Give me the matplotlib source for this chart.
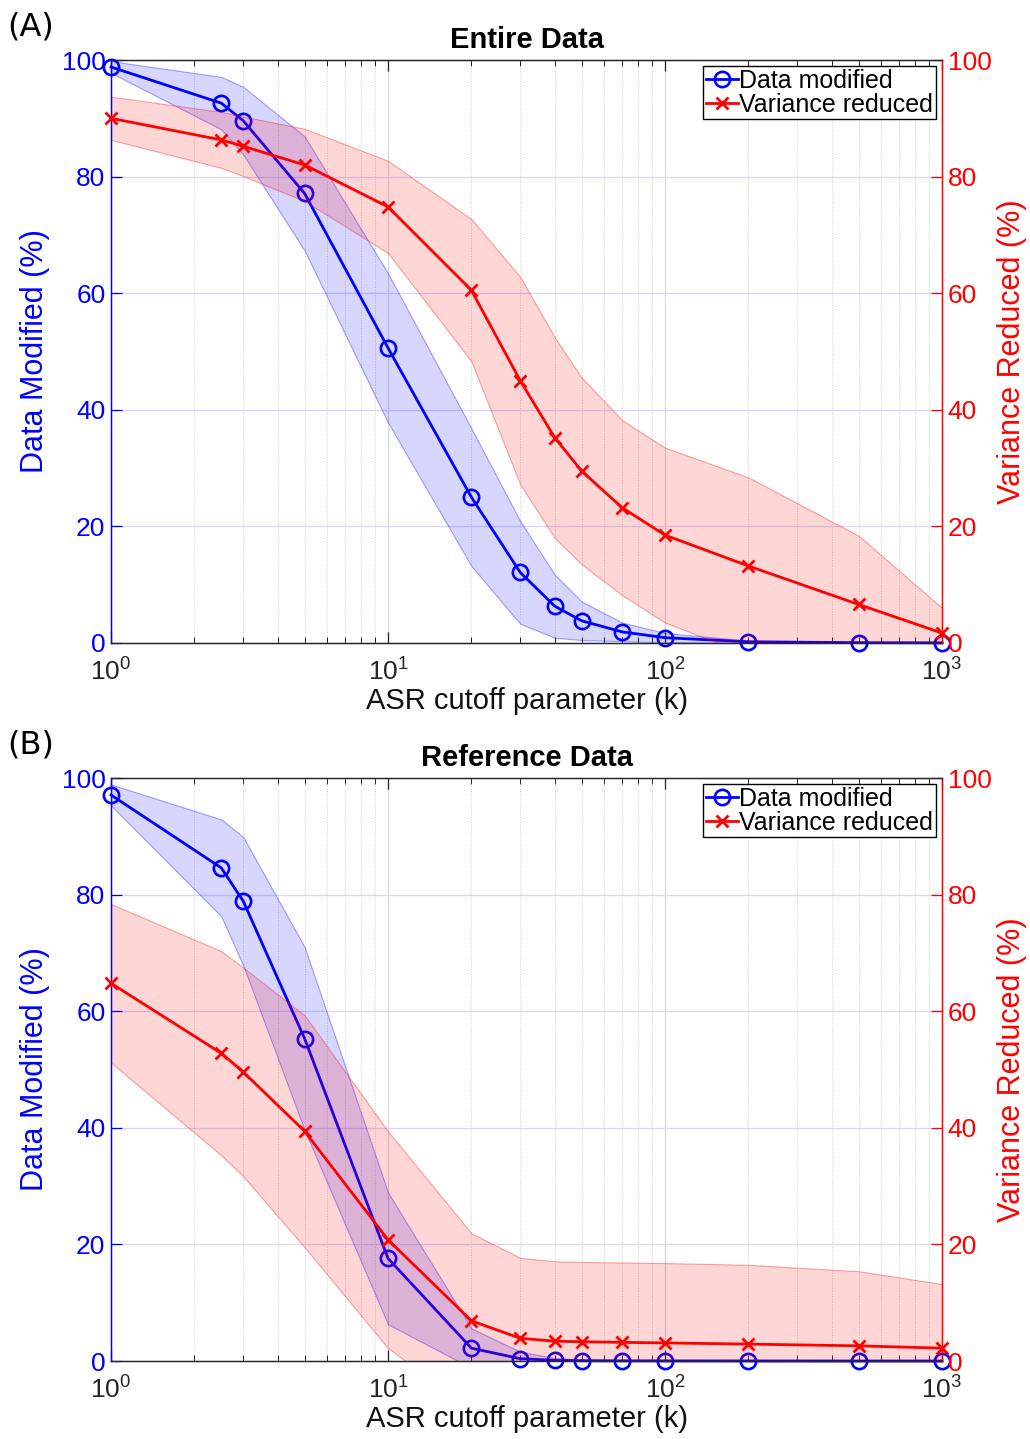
import matplotlib
matplotlib.use("Agg")
import matplotlib.pyplot as plt
from matplotlib.ticker import LogLocator, NullFormatter, FixedLocator

plt.rcParams["font.family"] = ["Liberation Sans", "DejaVu Sans"]
plt.rcParams["mathtext.fontset"] = "custom"
plt.rcParams["mathtext.rm"] = "Liberation Sans"

# ── Data ───────────────────────────────────────────────────────────────────
K_VALUES = [1, 2.5, 3, 5, 10, 20, 30, 40, 50, 70, 100, 200, 500, 1000]

# (A) Entire data
A_MOD_MEAN = [98.8, 92.6, 89.6, 77.1, 50.6, 25.0, 12.1, 6.3, 3.8, 1.9, 0.9, 0.2, 0.05, 0.02]
A_MOD_STD  = [1.0, 4.5, 5.8, 9.8, 12.8, 11.8, 8.8, 5.4, 3.3, 1.6, 0.8, 0.2, 0.05, 0.02]
A_VAR_MEAN = [90.0, 86.3, 85.2, 82.0, 74.8, 60.5, 45.0, 35.2, 29.5, 23.2, 18.5, 13.2, 6.6, 1.7]
A_VAR_STD  = [3.7, 4.8, 5.1, 6.2, 7.9, 12.2, 17.8, 17.2, 16.0, 15.0, 15.0, 15.2, 11.8, 4.3]

# (B) Reference data
B_MOD_MEAN = [97.1, 84.6, 78.9, 55.3, 17.6, 2.2, 0.4, 0.1, 0.05, 0.03, 0.02, 0.01, 0.0, 0.0]
B_MOD_STD  = [1.8, 8.3, 11.0, 15.7, 11.3, 3.4, 1.2, 0.4, 0.2, 0.1, 0.1, 0.05, 0.0, 0.0]
B_VAR_MEAN = [64.8, 52.8, 49.6, 39.4, 20.8, 6.9, 3.9, 3.4, 3.3, 3.2, 3.1, 2.9, 2.6, 2.2]
B_VAR_STD  = [13.6, 17.5, 17.9, 19.9, 18.6, 15.0, 13.8, 13.7, 13.7, 13.7, 13.7, 13.6, 12.8, 11.0]

Y_TICKS = [0, 20, 40, 60, 80, 100]

BLUE = "#0000ff"
RED = "#ff0000"
FS = 19      # tick labels
LFS = 21     # axis labels / title


def draw_panel(rect, mod_mean, mod_std, var_mean, var_std, title, tag):
    ax = fig.add_axes(rect)
    ax2 = ax.twinx()

    # shaded bands (mean ± std)
    lo = [m - s for m, s in zip(mod_mean, mod_std)]
    hi = [m + s for m, s in zip(mod_mean, mod_std)]
    ax.fill_between(K_VALUES, lo, hi, facecolor=(0, 0, 1, 0.16),
                    edgecolor=(0, 0, 1, 0.35), linewidth=0.8)
    l1, = ax.plot(K_VALUES, mod_mean, color=BLUE, lw=2.0, marker="o",
                  ms=11, mfc="none", mew=1.9, clip_on=False, zorder=5,
                  label="Data modified")

    lo = [m - s for m, s in zip(var_mean, var_std)]
    hi = [m + s for m, s in zip(var_mean, var_std)]
    ax2.fill_between(K_VALUES, lo, hi, facecolor=(1, 0, 0, 0.16),
                     edgecolor=(1, 0, 0, 0.35), linewidth=0.8)
    l2, = ax2.plot(K_VALUES, var_mean, color=RED, lw=2.0, marker="x",
                   ms=9, mew=2.0, clip_on=False, zorder=5,
                   label="Variance reduced")

    for a in (ax, ax2):
        a.set_xscale("log")
        a.set_xlim(1, 1000)
        a.set_ylim(0, 100)
        a.yaxis.set_major_locator(FixedLocator(Y_TICKS))

    # grid
    ax.xaxis.set_major_locator(LogLocator(base=10, numticks=10))
    ax.xaxis.set_minor_locator(LogLocator(base=10, subs=range(2, 10), numticks=20))
    ax.xaxis.set_minor_formatter(NullFormatter())
    ax.grid(True, which="major", axis="x", color="#d9d9d9", lw=0.9)
    ax.grid(True, which="minor", axis="x", color="#d0d0d0", lw=0.7, ls=":")
    ax.grid(True, which="major", axis="y", color="#d6d6ff", lw=0.9)
    ax.set_axisbelow(True)

    # ticks and spines
    ax.tick_params(axis="x", which="both", direction="in", top=True,
                   labelsize=FS, colors="#262626", pad=11)
    ax.tick_params(axis="x", which="major", length=8, width=0.9)
    ax.tick_params(axis="x", which="minor", length=4.5, width=0.7)
    ax.tick_params(axis="y", direction="in", length=8, width=0.9,
                   colors=BLUE, labelsize=FS, pad=4)
    ax2.tick_params(axis="y", direction="in", length=8, width=0.9,
                    colors=RED, labelsize=FS, pad=4)
    ax2.tick_params(axis="x", which="both", length=0)
    ax.spines["left"].set_color(BLUE)
    ax2.spines["left"].set_color(BLUE)
    ax2.spines["right"].set_color(RED)
    ax.spines["right"].set_color(RED)
    for a in (ax, ax2):
        a.spines["bottom"].set_color("#262626")
        a.spines["top"].set_color("#262626")
        for s in a.spines.values():
            s.set_linewidth(0.9)

    ax.set_xlabel("ASR cutoff parameter (k)", fontsize=LFS, color="#111111",
                  labelpad=1)
    ax.set_ylabel("Data Modified (%)", fontsize=LFS + 1, color=BLUE, labelpad=8)
    ax2.set_ylabel("Variance Reduced (%)", fontsize=LFS + 1, color=RED, labelpad=4)
    ax.set_title(title, fontsize=LFS, fontweight="bold", pad=9)

    ax2.legend(handles=[l1, l2], loc="upper right", fontsize=FS - 1,
               frameon=True, fancybox=False, edgecolor="black", framealpha=1,
               borderaxespad=0.25, borderpad=0.1, handlelength=1.3,
               handletextpad=0.05, labelspacing=0.0)

    fig.text(0.007, rect[1] + rect[3] + 0.012, tag, fontsize=LFS + 2,
             family=["DejaVu Sans"], ha="left", va="bottom")
    return ax, ax2


fig = plt.figure(figsize=(10.30, 14.39), dpi=100)

draw_panel([0.1078, 0.5532, 0.8068, 0.4051], A_MOD_MEAN, A_MOD_STD,
           A_VAR_MEAN, A_VAR_STD, "Entire Data", "(A)")
draw_panel([0.1078, 0.0542, 0.8068, 0.4051], B_MOD_MEAN, B_MOD_STD,
           B_VAR_MEAN, B_VAR_STD, "Reference Data", "(B)")

fig.savefig("out.png", dpi=100)
